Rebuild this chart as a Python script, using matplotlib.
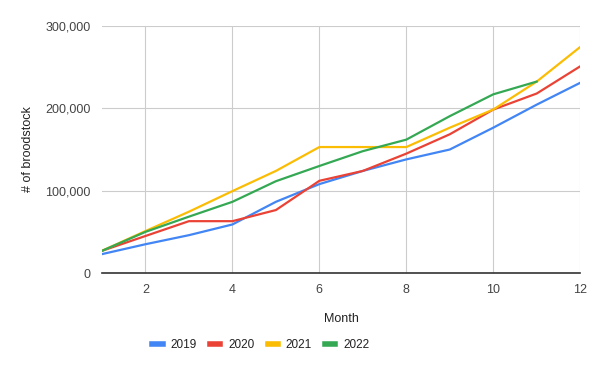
import matplotlib.pyplot as plt
from matplotlib.ticker import FuncFormatter

months = list(range(1, 13))
years = ['2019', '2020', '2021', '2022']
colors = ['#4285F4', '#EA4335', '#FBBC04', '#34A853']

y2019 = [23000, 35000, 46000, 59000, 86500, 108000, 124000, 138000, 150000, 176500, 204500, 231000]
y2020 = [27000, 45000, 63000, 63000, 76500, 112000, 124000, 145000, 168500, 198500, 218000, 251000]
y2021 = [27000, 51000, 74500, 99500, 124000, 153000, 153000, 153000, 176500, 198500, 232500, 274500]
y2022 = [27000, 50000, 68500, 86500, 111500, 130000, 148000, 162000, 190500, 217000, 232500]
series = [y2019, y2020, y2021, y2022]

plt.rcParams['font.family'] = ['Liberation Sans', 'DejaVu Sans']

fig = plt.figure(figsize=(6, 3.71), dpi=100)
ax = fig.add_axes([0.17, 0.264, 0.797, 0.666])

for name, vals, c in zip(years, series, colors):
  ax.plot(months[:len(vals)], vals, color=c, lw=1.6, label=name)

ax.set_xlim(1, 12)
ax.set_ylim(0, 300000)
ax.set_xticks([2, 4, 6, 8, 10, 12])
ax.set_yticks([0, 100000, 200000, 300000])
ax.yaxis.set_major_formatter(FuncFormatter(lambda v, p: f'{int(v):,}'))
ax.grid(color='#cccccc', lw=0.8)
ax.set_axisbelow(True)
for s in ['top', 'right', 'left']:
  ax.spines[s].set_visible(False)
ax.spines['bottom'].set_color('#333333')
ax.spines['bottom'].set_linewidth(1.2)
ax.tick_params(length=0, labelsize=9, colors='#444444', pad=8)

ax.set_xlabel('Month', fontsize=9, color='#222222', labelpad=12)
ax.set_ylabel('# of broodstock', fontsize=9, color='#222222', labelpad=8)

leg = fig.legend(loc='center', bbox_to_anchor=(0.435, 0.07), ncol=4, frameon=False,
                 fontsize=8.5, handlelength=0.85, handletextpad=0.7, columnspacing=1.1)
for h in leg.get_lines():
  h.set_linewidth(4)
for t in leg.get_texts():
  t.set_color('#222222')

fig.savefig('out.png', dpi=100)
